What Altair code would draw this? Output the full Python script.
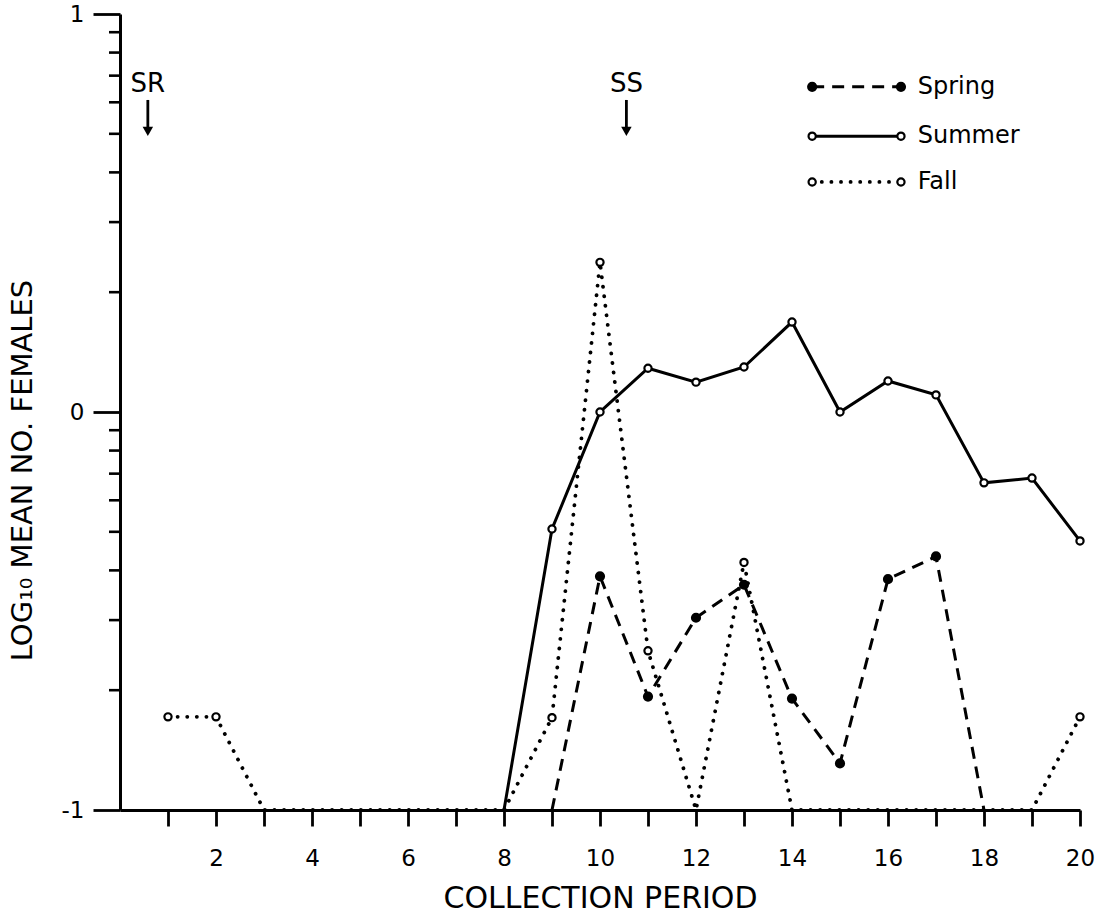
import math

import altair as alt
import pandas as pd

# Collection periods and log10 mean number of females per season (None = not plotted)
PERIODS = list(range(1, 21))
SPRING = [None, None, None, None, None, None, None, None,
          -1.0, -0.413, -0.715, -0.517, -0.434, -0.72, -0.883, -0.42, -0.363, -1.0,
          None, None]
SUMMER = [None, None, None, None, None, None, None,
          -1.0, -0.294, 0.0, 0.11, 0.075, 0.113, 0.226, 0.0, 0.078, 0.043, -0.178, -0.166, -0.324]
FALL = [-0.766, -0.766, -1.0, -1.0, -1.0, -1.0, -1.0, -1.0, -0.768, 0.376,
        -0.6, -1.0, -0.378, -1.0, -1.0, -1.0, -1.0, -1.0, -1.0, -0.766]

SERIES = ["Spring", "Summer", "Fall"]
SERIES_VALUES = [SPRING, SUMMER, FALL]

# Sunrise / sunset event markers along the period axis
EVENT_LABELS = ["SR", "SS"]
EVENT_PERIODS = [0.58, 10.55]

FONT = "DejaVu Sans"
INK = "black"

# Line style for each season
STYLES = {
    "Spring": dict(strokeDash=[12, 8], strokeWidth=3.0, strokeCap="butt", fill=INK, size=64),
    "Summer": dict(strokeDash=None, strokeWidth=3.0, strokeCap="round", fill="white", size=52),
    "Fall": dict(strokeDash=[0.1, 9.5], strokeWidth=3.8, strokeCap="round", fill="white", size=52),
}

# Legend placement (data units)
LEG_X0, LEG_X1, LEG_TEXT_X = 14.42, 16.27, 16.62
LEG_Y = [0.817, 0.693, 0.578]

# y axis: labelled decades plus log-spaced minor ticks
Y_MAJOR = [-1, 0, 1]
Y_MINOR = [-1 + math.log10(k) for k in range(2, 10)] + [math.log10(k) for k in range(2, 10)]

x_scale = alt.Scale(domain=[0, 20], nice=False, zero=False)
y_scale = alt.Scale(domain=[-1, 1], nice=False, zero=False)

x_axis = alt.Axis(
    values=PERIODS,
    labelExpr="datum.value % 2 == 0 ? datum.label : ''",
    title="COLLECTION PERIOD",
    titleFont=FONT, titleFontSize=30, titleFontWeight="normal", titleColor=INK,
    titleBaseline="middle", titleY=88,
    labelFont=FONT, labelFontSize=23, labelColor=INK, labelPadding=21,
    labelFlush=False, labelOverlap=False,
    tickSize=16, tickWidth=2.8, tickColor=INK,
    domainWidth=3, domainColor=INK, grid=False,
)
y_axis = alt.Axis(
    values=Y_MAJOR,
    labelExpr="datum.value == 1 ? '1' : datum.value == 0 ? '0' : '-1'",
    title="LOG₁₀ MEAN NO. FEMALES",
    titleFont=FONT, titleFontSize=29, titleFontWeight="normal", titleColor=INK,
    titleBaseline="middle", titleX=-98, titleY=456,
    labelFont=FONT, labelFontSize=23, labelColor=INK, labelPadding=9,
    labelFlush=False, labelOverlap=False,
    tickSize=27, tickWidth=2.8, tickColor=INK,
    domainWidth=3, domainColor=INK, grid=False,
)


def X(field):
    return alt.X(field, scale=x_scale, axis=x_axis)


def Y(field):
    return alt.Y(field, scale=y_scale, axis=y_axis)


layers = []

# minor log ticks on the y axis
minor_df = pd.DataFrame({"t": Y_MINOR})
layers.append(alt.Chart(minor_df).mark_rule(color=INK, strokeWidth=2.6).encode(
    y=Y("t:Q"),
    x=alt.value(-11), x2=alt.value(0),
))

for i, (name, vals) in enumerate(zip(SERIES, SERIES_VALUES)):
    df = pd.DataFrame({"period": PERIODS, "value": vals}).dropna()
    st = STYLES[name]
    line_kw = dict(color=INK, strokeWidth=st["strokeWidth"], strokeCap=st["strokeCap"])
    if st["strokeDash"]:
        line_kw["strokeDash"] = st["strokeDash"]
    layers.append(alt.Chart(df).mark_line(**line_kw).encode(
        x=X("period:Q"), y=Y("value:Q"),
    ))
    layers.append(alt.Chart(df).transform_filter("datum.value > -1").mark_point(
        shape="circle", filled=True, fill=st["fill"], stroke=INK, strokeWidth=2.2,
        size=st["size"], opacity=1,
    ).encode(
        x=X("period:Q"), y=Y("value:Q"),
    ))

    # legend entry for this season
    leg = pd.DataFrame({"name": [name], "x0": [LEG_X0], "x1": [LEG_X1],
                        "xt": [LEG_TEXT_X], "y": [LEG_Y[i]]})
    rule_kw = dict(color=INK, strokeWidth=st["strokeWidth"], strokeCap=st["strokeCap"])
    if st["strokeDash"]:
        rule_kw["strokeDash"] = st["strokeDash"]
    layers.append(alt.Chart(leg).mark_rule(**rule_kw).encode(
        x=X("x0:Q"), x2="x1:Q", y=Y("y:Q"),
    ))
    layers.append(alt.Chart(leg).transform_fold(["x0", "x1"], as_=["end", "xe"]).mark_point(
        shape="circle", filled=True, fill=st["fill"], stroke=INK, strokeWidth=2.2,
        size=st["size"], opacity=1,
    ).encode(
        x=X("xe:Q"), y=Y("y:Q"),
    ))
    layers.append(alt.Chart(leg).mark_text(
        align="left", baseline="middle", font=FONT, fontSize=24, color=INK,
    ).encode(
        x=X("xt:Q"), y=Y("y:Q"), text="name:N",
    ))

# SR / SS markers with downward arrows
ev = pd.DataFrame({"label": EVENT_LABELS, "period": EVENT_PERIODS,
                   "ty": [0.824] * 2, "s0": [0.784] * 2, "s1": [0.712] * 2, "hy": [0.705] * 2})
layers.append(alt.Chart(ev).mark_text(
    font=FONT, fontSize=26, color=INK, align="center", baseline="middle",
).encode(
    x=X("period:Q"), y=Y("ty:Q"), text="label:N",
))
layers.append(alt.Chart(ev).mark_rule(color=INK, strokeWidth=2.8).encode(
    x=X("period:Q"), y=Y("s0:Q"), y2="s1:Q",
))
layers.append(alt.Chart(ev).mark_point(
    shape="triangle-down", filled=True, color=INK, size=110, opacity=1,
).encode(
    x=X("period:Q"), y=Y("hy:Q"),
))

chart = alt.layer(*layers).properties(
    width=960, height=796,
    autosize=alt.AutoSizeParams(type="none"),
    padding={"left": 120, "top": 14, "right": 26, "bottom": 109},
    background="white",
).configure_view(stroke=None)

chart.save("out.html", embed_options={"renderer": "svg", "actions": False})
